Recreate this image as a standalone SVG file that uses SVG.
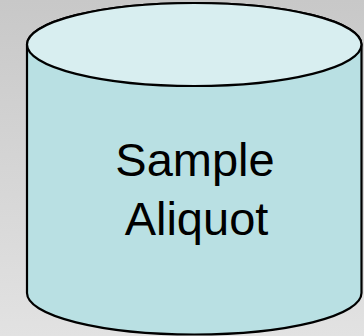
<svg xmlns="http://www.w3.org/2000/svg" width="364" height="336" viewBox="0 0 364 336">
<defs>
<linearGradient id="bg" x1="0" y1="0" x2="0" y2="1">
<stop offset="0" stop-color="#c8c8c8"/>
<stop offset="1" stop-color="#e2e2e2"/>
</linearGradient>
</defs>
<style>
.shape{stroke:#000;stroke-width:2.2;}
.lbl{font-family:"Liberation Sans",Arial,sans-serif;font-size:47px;fill:#000;text-anchor:middle;}
</style>
<rect x="0" y="0" width="364" height="336" fill="url(#bg)"/>
<g id="sample-aliquot">
<path class="shape" fill="#b9e0e3" d="M27,44.5 A167.25,41.5 0 0 1 361.5,44.5 V293 A167.25,41.5 0 0 1 27,293 Z"/>
<ellipse class="shape" fill="#d8eef0" cx="194.25" cy="44.5" rx="167.25" ry="41.5"/>
<text class="lbl" x="195" y="176">Sample</text>
<text class="lbl" x="196.5" y="235">Aliquot</text>
</g>
</svg>
